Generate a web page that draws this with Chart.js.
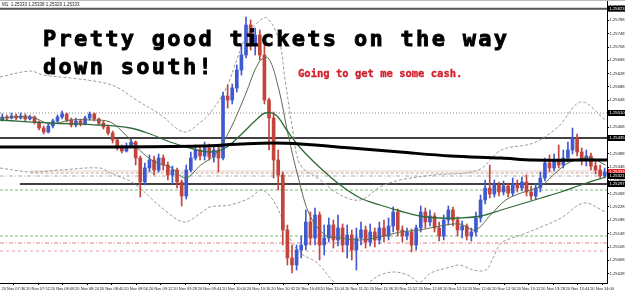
<!DOCTYPE html>
<html>
<head>
<meta charset="utf-8">
<script src="https://cdn.jsdelivr.net/npm/chart.js@4.4.1/dist/chart.umd.min.js"></script>
<style>
  html, body { margin: 0; padding: 0; background: #fff; }
  #wrap { position: relative; width: 625px; height: 293px; overflow: hidden; }
  #grafico { position: absolute; left: 0; top: 0; }
  #frame { position: absolute; left: 0; top: 0; width: 625px; height: 1px; background: #bdbdbd; }
  .note { position: absolute; white-space: pre; font-family: 'DejaVu Sans Mono', monospace; font-weight: bold; }
  #titulo { left: 43px; top: 25px; font-size: 22px; line-height: 28px; letter-spacing: 2.3px; color: #000; -webkit-text-stroke: 0.9px #000; }
  #subtitulo { left: 298px; top: 67px; font-size: 10.5px; line-height: 12px; color: #d0202c; -webkit-text-stroke: 0.3px #d0202c; }
  #cabecalho { position: absolute; left: 2px; top: 2px; font: 4.5px 'Liberation Sans', sans-serif; color: #222; white-space: pre; }
</style>
</head>
<body>
<div id="wrap">
  <canvas id="grafico" width="625" height="293"></canvas>
  <div id="frame"></div>
  <div id="cabecalho">M1  1.25333 1.25338 1.25329 1.25333</div>
  <div class="note" id="titulo">Pretty good tickets on the way
down south!</div>
  <div class="note" id="subtitulo">Going to get me some cash.</div>
</div>
<script>
// sessao: 20 Nov, barras de 3 minutos a partir das 07:35
const sessionStart = 7 * 60 + 35;
const sessionEnd = 14 * 60 + 11;
const barMinutes = 3;

const opens = [1.25489,1.25498,1.25495,1.25501,1.25495,1.25501,1.25492,1.25498,1.25483,1.25465,
  1.25453,1.25471,1.25486,1.25498,1.25507,1.25489,1.25474,1.25486,1.25477,1.25495,
  1.25507,1.25492,1.25480,1.25468,1.25450,1.25429,1.25405,1.25396,1.25411,1.25423,
  1.25375,1.25303,1.25345,1.25369,1.25339,1.25375,1.25354,1.25324,1.25339,1.25303,
  1.25261,1.25339,1.25375,1.25399,1.25381,1.25405,1.25378,1.25399,1.25375,1.25561,
  1.25549,1.25585,1.25639,1.25684,1.25774,1.25714,1.25744,1.25684,1.25549,1.25495,
  1.25369,1.25324,1.25159,1.25075,1.25054,1.25099,1.25114,1.25183,1.25135,1.25204,
  1.25114,1.25135,1.25174,1.25129,1.25165,1.25114,1.25144,1.25099,1.25135,1.25159,
  1.25123,1.25153,1.25129,1.25165,1.25141,1.25171,1.25213,1.25159,1.25141,1.25153,
  1.25114,1.25165,1.25213,1.25183,1.25201,1.25165,1.25141,1.25189,1.25219,1.25189,
  1.25159,1.25171,1.25141,1.25153,1.25195,1.25249,1.25285,1.25267,1.25294,1.25273,
  1.25291,1.25270,1.25297,1.25285,1.25303,1.25273,1.25261,1.25285,1.25315,1.25360,
  1.25345,1.25369,1.25354,1.25375,1.25399,1.25435,1.25393,1.25369,1.25381,1.25351,
  1.25339,1.25321];
const highs = [1.25507,1.25504,1.25510,1.25507,1.25510,1.25507,1.25504,1.25501,1.25486,1.25471,
  1.25477,1.25492,1.25504,1.25516,1.25510,1.25495,1.25495,1.25492,1.25501,1.25513,
  1.25510,1.25495,1.25486,1.25474,1.25456,1.25432,1.25414,1.25420,1.25432,1.25426,
  1.25381,1.25360,1.25384,1.25381,1.25387,1.25384,1.25363,1.25351,1.25345,1.25309,
  1.25354,1.25393,1.25414,1.25411,1.25423,1.25417,1.25411,1.25408,1.25573,1.25594,
  1.25597,1.25654,1.25714,1.25798,1.25789,1.25765,1.25759,1.25714,1.25555,1.25513,
  1.25399,1.25333,1.25174,1.25114,1.25114,1.25141,1.25219,1.25213,1.25225,1.25213,
  1.25174,1.25195,1.25189,1.25204,1.25177,1.25174,1.25159,1.25165,1.25183,1.25171,
  1.25177,1.25165,1.25183,1.25189,1.25195,1.25228,1.25222,1.25171,1.25165,1.25162,
  1.25174,1.25231,1.25225,1.25219,1.25210,1.25183,1.25204,1.25231,1.25228,1.25198,
  1.25186,1.25177,1.25165,1.25213,1.25264,1.25309,1.25354,1.25309,1.25303,1.25306,
  1.25300,1.25315,1.25309,1.25318,1.25324,1.25291,1.25297,1.25333,1.25375,1.25384,
  1.25387,1.25414,1.25399,1.25423,1.25465,1.25447,1.25405,1.25399,1.25390,1.25369,
  1.25354,1.25345];
const lows = [1.25486,1.25489,1.25492,1.25489,1.25492,1.25486,1.25489,1.25477,1.25459,1.25447,
  1.25450,1.25465,1.25480,1.25492,1.25483,1.25468,1.25468,1.25471,1.25474,1.25489,
  1.25486,1.25474,1.25462,1.25444,1.25420,1.25399,1.25390,1.25393,1.25405,1.25354,
  1.25258,1.25294,1.25333,1.25324,1.25333,1.25339,1.25309,1.25297,1.25285,1.25231,
  1.25252,1.25333,1.25369,1.25369,1.25369,1.25369,1.25363,1.25333,1.25369,1.25525,
  1.25537,1.25573,1.25624,1.25675,1.25699,1.25684,1.25669,1.25537,1.25399,1.25315,
  1.25279,1.25114,1.25054,1.25030,1.25039,1.25075,1.25099,1.25114,1.25114,1.25069,
  1.25084,1.25123,1.25105,1.25111,1.25093,1.25075,1.25069,1.25039,1.25114,1.25105,
  1.25111,1.25108,1.25117,1.25123,1.25129,1.25153,1.25141,1.25123,1.25129,1.25093,
  1.25099,1.25153,1.25165,1.25171,1.25153,1.25126,1.25129,1.25174,1.25171,1.25141,
  1.25135,1.25129,1.25126,1.25141,1.25183,1.25237,1.25255,1.25258,1.25261,1.25264,
  1.25258,1.25261,1.25273,1.25276,1.25261,1.25249,1.25252,1.25273,1.25306,1.25333,
  1.25336,1.25345,1.25345,1.25363,1.25387,1.25381,1.25354,1.25351,1.25339,1.25327,
  1.25315,1.25315];
const closes = [1.25498,1.25495,1.25501,1.25495,1.25501,1.25492,1.25498,1.25483,1.25465,1.25453,
  1.25471,1.25486,1.25498,1.25507,1.25489,1.25474,1.25486,1.25477,1.25495,1.25507,
  1.25492,1.25480,1.25468,1.25450,1.25429,1.25405,1.25396,1.25411,1.25423,1.25375,
  1.25303,1.25345,1.25369,1.25339,1.25375,1.25354,1.25324,1.25339,1.25303,1.25261,
  1.25339,1.25375,1.25399,1.25381,1.25405,1.25378,1.25399,1.25375,1.25561,1.25549,
  1.25585,1.25639,1.25684,1.25774,1.25714,1.25744,1.25684,1.25549,1.25495,1.25369,
  1.25324,1.25159,1.25075,1.25054,1.25099,1.25114,1.25183,1.25135,1.25204,1.25114,
  1.25135,1.25174,1.25129,1.25165,1.25114,1.25144,1.25099,1.25135,1.25159,1.25123,
  1.25153,1.25129,1.25165,1.25141,1.25171,1.25213,1.25159,1.25141,1.25153,1.25114,
  1.25165,1.25213,1.25183,1.25201,1.25165,1.25141,1.25189,1.25219,1.25189,1.25159,
  1.25171,1.25141,1.25153,1.25195,1.25249,1.25285,1.25267,1.25294,1.25273,1.25291,
  1.25270,1.25297,1.25285,1.25303,1.25273,1.25261,1.25285,1.25315,1.25360,1.25345,
  1.25369,1.25354,1.25375,1.25399,1.25435,1.25393,1.25369,1.25381,1.25351,1.25339,
  1.25321,1.25333];

// medias e bandas: [minuto desde 07:35, preco]
const ma200 = [[0,1.25408],[65,1.25408],[131,1.25411],[157,1.25417],[178,1.25420],[196,1.25417],
  [229,1.25405],[261,1.25393],[294,1.25381],[327,1.25375],[348,1.25369],[396,1.25369]];
const ma50 = [[0,1.25489],[33,1.25480],[65,1.25474],[85,1.25465],[98,1.25447],[111,1.25423],
  [124,1.25405],[137,1.25393],[147,1.25405],[157,1.25444],[167,1.25489],[173,1.25510],
  [180,1.25504],[187,1.25459],[196,1.25405],[209,1.25345],[222,1.25294],[235,1.25255],
  [248,1.25234],[261,1.25216],[274,1.25201],[287,1.25195],[300,1.25195],[314,1.25201],
  [327,1.25219],[340,1.25237],[353,1.25255],[366,1.25273],[379,1.25294],[395,1.25318]];
const ma20 = [[0,1.25495],[20,1.25498],[33,1.25477],[46,1.25489],[59,1.25489],[72,1.25483],
  [82,1.25444],[91,1.25399],[101,1.25363],[111,1.25348],[121,1.25315],[131,1.25354],
  [140,1.25384],[150,1.25459],[160,1.25564],[169,1.25663],[175,1.25675],[182,1.25579],
  [188,1.25444],[195,1.25309],[202,1.25204],[212,1.25144],[222,1.25135],[235,1.25129],
  [248,1.25138],[261,1.25153],[274,1.25159],[287,1.25171],[300,1.25177],[310,1.25159],
  [320,1.25204],[330,1.25249],[340,1.25270],[353,1.25291],[363,1.25333],[372,1.25363],
  [385,1.25375],[395,1.25354]];
const bandUpper = [[0,1.25618],[20,1.25636],[28,1.25624],[46,1.25615],[65,1.25603],[76,1.25588],
  [89,1.25549],[105,1.25504],[120,1.25453],[131,1.25483],[137,1.25510],[147,1.25579],
  [154,1.25663],[160,1.25735],[167,1.25777],[174,1.25795],[182,1.25729],[186,1.25609],
  [191,1.25459],[196,1.25354],[209,1.25309],[222,1.25264],[235,1.25249],[248,1.25288],
  [261,1.25309],[283,1.25324],[312,1.25339],[327,1.25399],[348,1.25420],[364,1.25468],
  [379,1.25543],[395,1.25489]];
const bandLower = [[0,1.25345],[20,1.25333],[39,1.25339],[65,1.25345],[72,1.25330],[87,1.25300],
  [105,1.25228],[120,1.25183],[131,1.25210],[137,1.25228],[150,1.25234],[163,1.25255],
  [171,1.25279],[180,1.25234],[189,1.25135],[196,1.25090],[207,1.25060],[218,1.25003],
  [229,1.24973],[240,1.25000],[248,1.25024],[257,1.25033],[266,1.25024],[274,1.25003],
  [281,1.25030],[294,1.25048],[300,1.25054],[309,1.25039],[317,1.25039],[322,1.25078],
  [327,1.25120],[340,1.25144],[353,1.25168],[366,1.25195],[381,1.25240],[395,1.25213]];

// linhas horizontais
const topLine = 1.25823;
const resistance = 1.25510;
const pivot = 1.25435;
const entryA = 1.25336;
const entryB = 1.25330;
const entryC = 1.25321;
const support = 1.25297;
const target1 = 1.25279;
const target2 = 1.25141;
const stop1 = 1.25120;
const stop2 = 1.25096;

const priceTicks = [1.25028,1.25068,1.25108,1.25148,1.25188,1.25228,1.25268,1.25308,1.25348,1.25388,
  1.25428,1.25468,1.25508,1.25548,1.25588,1.25628,1.25668,1.25708,1.25748,1.25788,1.25828];
const timeLabels = ['20 Nov 07:36','20 Nov 07:52','20 Nov 08:08','20 Nov 08:24','20 Nov 08:40',
  '20 Nov 08:56','20 Nov 09:12','20 Nov 09:28','20 Nov 09:44','20 Nov 10:00','20 Nov 10:16',
  '20 Nov 10:32','20 Nov 10:48','20 Nov 11:04','20 Nov 11:20','20 Nov 11:36','20 Nov 11:52',
  '20 Nov 12:08','20 Nov 12:24','20 Nov 12:40','20 Nov 12:56','20 Nov 13:12','20 Nov 13:28',
  '20 Nov 13:44','20 Nov 14:00'];

const bull = '#3f5ad0';
const bear = '#c2443a';
const span = sessionEnd - sessionStart;

function minuteOf(label) {
  const hm = label.slice(-5).split(':');
  return +hm[0] * 60 + +hm[1] - sessionStart;
}
const barX = i => i * barMinutes + barMinutes / 2;
const candleColor = c => closes[c.dataIndex] >= opens[c.dataIndex] ? bull : bear;
const pts = arr => arr.map(p => ({ x: p[0], y: p[1] }));

function level(price, color, width, dash, from) {
  return {
    type: 'line', data: [{ x: from || 0, y: price }, { x: span, y: price }],
    borderColor: color, borderWidth: width, borderDash: dash || [],
    pointRadius: 0, order: 10
  };
}
function curve(arr, color, width, dash, order) {
  return {
    type: 'line', data: pts(arr), borderColor: color, borderWidth: width,
    borderDash: dash || [], pointRadius: 0, tension: 0.35, order: order
  };
}

const tags = [
  { price: topLine, color: '#000' },
  { price: resistance, color: '#000' },
  { price: pivot, color: '#000' },
  { price: closes[closes.length - 1], color: '#e0262c' },
  { price: entryC, color: '#000' },
  { price: support, color: '#000' }
];

const priceTags = {
  id: 'priceTags',
  afterDraw(chart) {
    const ctx = chart.ctx, y = chart.scales.y, area = chart.chartArea;
    ctx.save();
    ctx.font = '4.2px "Liberation Sans"';
    ctx.textBaseline = 'middle';
    tags.forEach(t => {
      const py = y.getPixelForValue(t.price);
      ctx.fillStyle = t.color;
      ctx.fillRect(area.right + 1, py - 3, 17, 6);
      ctx.fillStyle = '#fff';
      ctx.fillText(t.price.toFixed(5), area.right + 2.5, py);
    });
    ctx.restore();
  }
};

Chart.defaults.font.family = 'Liberation Sans';
Chart.defaults.color = '#222';

const ctx = document.getElementById('grafico').getContext('2d');
new Chart(ctx, {
  type: 'bar',
  data: {
    datasets: [
      level(topLine, '#555', 2),
      level(resistance, '#888', 1, [1, 2]),
      level(pivot, '#000', 1.5),
      level(entryA, '#d79a9a', 1, [1, 1], 20),
      level(entryB, '#c9a08a', 1, [3, 2], 20),
      level(entryC, '#aaa', 1, [4, 2, 1, 2]),
      level(support, '#000', 1.5, [], 13),
      level(target1, '#7fb77f', 1, [3, 2]),
      level(target2, '#7fb77f', 1, [3, 2]),
      level(stop1, '#e08080', 1, [4, 2, 1, 2]),
      level(stop2, '#e0a0a0', 1, [3, 3]),
      curve(bandUpper, '#9a9a9a', 1, [3, 2], 8),
      curve(bandLower, '#9a9a9a', 1, [3, 2], 8),
      {
        type: 'bar', order: 6, grouped: false, barThickness: 1, minBarLength: 1,
        data: lows.map((l, i) => ({ x: barX(i), y: [l, highs[i]] })),
        backgroundColor: candleColor
      },
      {
        type: 'bar', order: 5, grouped: false, barThickness: 3, minBarLength: 1,
        data: opens.map((o, i) => ({ x: barX(i), y: [o, closes[i]] })),
        backgroundColor: candleColor
      },
      curve(ma20, '#5d6b4e', 1, [], 3),
      curve(ma50, '#2f6b3a', 1.3, [], 2),
      curve(ma200, '#000', 3, [], 1)
    ]
  },
  options: {
    responsive: false,
    animation: false,
    layout: { padding: 0 },
    plugins: { legend: { display: false }, tooltip: { enabled: false } },
    scales: {
      x: {
        type: 'linear', min: 0, max: span, offset: false,
        afterBuildTicks: s => { s.ticks = timeLabels.map(t => ({ value: minuteOf(t) })); },
        afterFit: s => { s.height = 10; s.paddingLeft = 0; s.paddingRight = 0; },
        border: { display: true, color: '#000', width: 1 },
        grid: { drawOnChartArea: false, drawTicks: true, tickLength: 2, color: '#000' },
        ticks: {
          autoSkip: false, maxRotation: 0, minRotation: 0, align: 'start', padding: 1,
          font: { size: 4 }, color: '#222',
          callback: (v, i) => timeLabels[i]
        }
      },
      y: {
        type: 'linear', position: 'right', min: 1.25000, max: 1.25849,
        afterBuildTicks: s => { s.ticks = priceTicks.map(v => ({ value: v })); },
        afterFit: s => { s.width = 18; s.paddingTop = 0; s.paddingBottom = 0; },
        border: { display: true, color: '#000', width: 1 },
        grid: { drawOnChartArea: false, drawTicks: true, tickLength: 2, color: '#000' },
        ticks: {
          padding: 0.5, font: { size: 4.2 }, color: '#222',
          callback: v => v.toFixed(5)
        }
      }
    }
  },
  plugins: [priceTags]
});
</script>
</body>
</html>
